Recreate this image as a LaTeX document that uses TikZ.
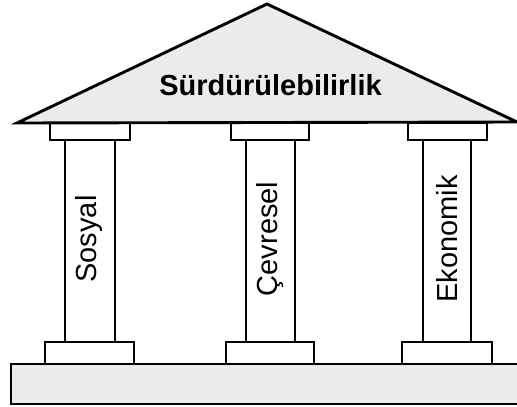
\documentclass[tikz,border=0pt]{standalone}
\usepackage{fontspec}
\setmainfont{Liberation Sans}
\usepackage{xcolor}
\usepackage{tikz}

\begin{document}
\begin{tikzpicture}[x=1pt, y=-1pt, line width=2.9pt,
  piesa/.style={draw=black, fill=white},
  gri/.style={draw=black, fill=black!8},
  eticheta/.style={font=\fontsize{29}{32}\selectfont, rotate=90, inner sep=0pt}]
\useasboundingbox (0,0) rectangle (517,407);
\clip (0,0) rectangle (517,407);

% Soclu
\draw[gri] (11,364) rectangle (540,404);

% Baze coloane
\draw[piesa] (45,342) rectangle (134,364);
\draw[piesa] (226,342) rectangle (314,364);
\draw[piesa] (402,342) rectangle (492,364);

% Coloane
\draw[piesa] (65,140) rectangle (115,342);
\draw[piesa] (246,140) rectangle (295,342);
\draw[piesa] (423,140) rectangle (471,342);

% Capiteluri
\draw[piesa] (50,123) rectangle (130,140);
\draw[piesa] (231,123) rectangle (309,140);
\draw[piesa] (408,123) rectangle (487,140);

% Acoperis
\draw[gri, line join=miter] (17,123) -- (267,4) -- (517,122) -- cycle;
\node[font=\fontsize{29}{32}\selectfont\bfseries, inner sep=0pt, anchor=base] (titlu) at (270.5,95) {Sürdürülebilirlik};

% Etichete coloane
\node[eticheta] (sosyal) at (89,239) {Sosyal};
\node[eticheta] (cevresel) at (270,239) {Çevresel};
\node[eticheta] (ekonomik) at (447,239) {Ekonomik};

\end{tikzpicture}
\end{document}
